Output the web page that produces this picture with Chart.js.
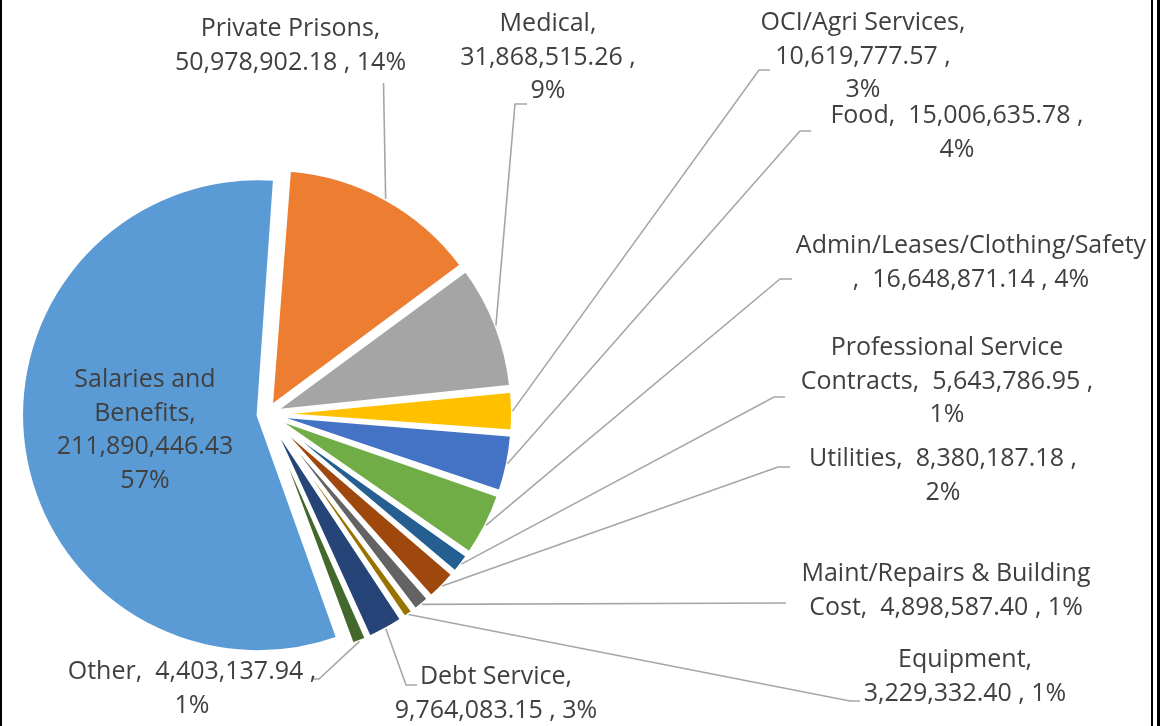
<!DOCTYPE html>
<html>
<head>
<meta charset="utf-8">
<script src="https://cdn.jsdelivr.net/npm/chart.js@4.4.1/dist/chart.umd.min.js"></script>
<style>
  html, body { margin: 0; padding: 0; background: #fff; }
  .wrap { position: relative; width: 1164px; height: 726px; overflow: hidden; }
  .edge { position: absolute; top: 0; height: 726px; background: #000; }
  canvas { position: absolute; left: 0; top: 0; }
</style>
</head>
<body>
<div class="wrap">
  <canvas id="pieChart" width="1164" height="726"></canvas>
  <div class="edge" style="left:0;width:2px"></div>
  <div class="edge" style="left:1151px;width:2px"></div>
  <div class="edge" style="left:1157px;width:3px"></div>
</div>
<script>
const categories = [
  "Salaries and Benefits",
  "Private Prisons",
  "Medical",
  "OCI/Agri Services",
  "Food",
  "Admin/Leases/Clothing/Safety",
  "Professional Service Contracts",
  "Utilities",
  "Maint/Repairs & Building Cost",
  "Equipment",
  "Debt Service",
  "Other",
];
const amounts = [
  211890446.43, 50978902.18, 31868515.26, 10619777.57, 15006635.78, 16648871.14,
  5643786.95, 8380187.18, 4898587.4, 3229332.4, 9764083.15, 4403137.94,
];
const sliceColors = [
  "#5B9BD5", "#ED7D31", "#A5A5A5", "#FFC000", "#4472C4", "#70AD47",
  "#255E91", "#9E480E", "#636363", "#997300", "#264478", "#43682B",
];

// label text per slice ({n} name, {v} value, {p} percent), one entry per line
const labelLines = [
  ["Salaries and", "Benefits,", "{v}", "{p}"],
  ["{n},", "{v} , {p}"],
  ["{n},", "{v} ,", "{p}"],
  ["{n},", "{v} ,", "{p}"],
  ["{n},  {v} ,", "{p}"],
  ["{n}", ",  {v} , {p}"],
  ["Professional Service", "Contracts,  {v} ,", "{p}"],
  ["{n},  {v} ,", "{p}"],
  ["Maint/Repairs & Building", "Cost,  {v} , {p}"],
  ["{n},", "{v} , {p}"],
  ["{n},", "{v} , {p}"],
  ["{n},  {v} ,", "{p}"],
];
// label placement: centre x, first baseline, leader elbow/end points
const labelPos = [
  { x: 145, y: 387, lead: null },
  { x: 290.5, y: 36, lead: [[383.5, 83]] },
  { x: 548, y: 31, lead: [[515, 104], [527, 104]] },
  { x: 863, y: 30, lead: [[759, 70], [770, 70]] },
  { x: 957, y: 123, lead: [[800, 131], [811, 131]] },
  { x: 971, y: 253, lead: [[780, 279], [792, 279]] },
  { x: 947, y: 355, lead: [[774, 397], [785, 397]] },
  { x: 943, y: 466, lead: [[778, 467], [790, 467]] },
  { x: 946, y: 581, lead: [[786, 603]] },
  { x: 965, y: 667, lead: [[850, 701], [860, 701]] },
  { x: 496, y: 684, lead: [[406, 685], [417, 685]] },
  { x: 192, y: 679, lead: [[319, 679], [312, 679]] },
];

const pieRadius = 236.5;
const explode = 36; // chart.js moves a slice by offset / 4

// excel style percentages: largest remainder so they add up to 100
const percentages = (vals) => {
  const total = vals.reduce((a, b) => a + b, 0);
  const raw = vals.map((v) => (v / total) * 100);
  const out = raw.map((r) => Math.floor(r));
  let left = 100 - out.reduce((a, b) => a + b, 0);
  const order = raw
    .map((r, i) => [r - Math.floor(r), i])
    .sort((a, b) => b[0] - a[0]);
  for (let k = 0; k < left; k++) out[order[k][1]] += 1;
  return out;
};
const pcts = percentages(amounts);

const fmt = (v) =>
  v.toLocaleString("en-US", { minimumFractionDigits: 2, maximumFractionDigits: 2 });

const pieLabels = {
  id: "pieLabels",
  beforeDatasetsDraw: (chart) => {
    // keep one outer radius for every exploded slice
    chart.getDatasetMeta(0).data.forEach((arc) => {
      const fix = 1 - Math.sin(Math.min(Math.PI, arc.circumference));
      arc.outerRadius = pieRadius - (explode / 4) * fix;
    });
  },
  afterDatasetsDraw: (chart) => {
    const ctx = chart.ctx;
    const arcs = chart.getDatasetMeta(0).data;
    ctx.save();
    ctx.strokeStyle = "#A6A6A6";
    ctx.lineWidth = 1.6;
    arcs.forEach((arc, i) => {
      const pos = labelPos[i];
      if (!pos.lead) return;
      const mid = (arc.startAngle + arc.endAngle) / 2;
      const r = pieRadius + explode / 4;
      ctx.beginPath();
      ctx.moveTo(arc.x + Math.cos(mid) * r, arc.y + Math.sin(mid) * r);
      pos.lead.forEach((p) => ctx.lineTo(p[0], p[1]));
      ctx.stroke();
    });
    ctx.fillStyle = "#404040";
    ctx.font = '25px "Open Sans"';
    ctx.textAlign = "center";
    ctx.textBaseline = "alphabetic";
    labelLines.forEach((lines, i) => {
      const pos = labelPos[i];
      lines.forEach((line, j) => {
        const text = line
          .replace("{n}", categories[i])
          .replace("{v}", fmt(amounts[i]))
          .replace("{p}", pcts[i] + "%");
        ctx.fillText(text, pos.x, pos.y + j * 33.7);
      });
    });
    ctx.restore();
  },
};

const ctx = document.getElementById("pieChart").getContext("2d");
const pieChart = new Chart(ctx, {
  type: "pie",
  data: {
    labels: categories,
    datasets: [
      {
        data: amounts,
        backgroundColor: sliceColors,
        borderColor: "#FFFFFF",
        borderWidth: 3,
        offset: explode,
        hoverOffset: 0,
      },
    ],
  },
  options: {
    responsive: false,
    animation: false,
    events: [],
    rotation: 160,
    radius: pieRadius,
    layout: { padding: { left: 20, right: 650, top: 170, bottom: 68 } },
    plugins: {
      legend: { display: false },
      tooltip: { enabled: false },
    },
  },
  plugins: [pieLabels],
});
</script>
</body>
</html>
